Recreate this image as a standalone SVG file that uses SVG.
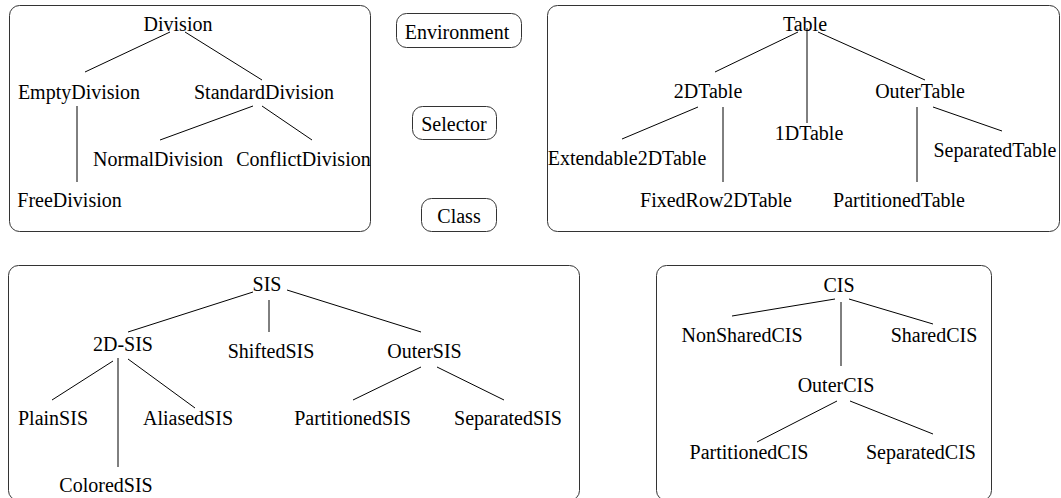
<svg xmlns="http://www.w3.org/2000/svg" width="1061" height="498" viewBox="0 0 1061 498">
<style>
text{font-family:"Liberation Serif","Times New Roman",serif;font-size:20px;fill:#000;text-anchor:middle}
.box{fill:none;stroke:#333;stroke-width:1}
.lbl{fill:#fff;stroke:#333;stroke-width:1}
#connectors line{stroke:#000;stroke-width:1}
</style>
<rect fill="#fff" width="1061" height="498"/>
<g id="frames">
<rect class="box" x="9.5" y="5.5" width="361" height="226" rx="10"/>
<rect class="box" x="547.5" y="5.5" width="512" height="226" rx="10"/>
<rect class="box" x="8.5" y="265.5" width="571" height="235" rx="10"/>
<rect class="box" x="656.5" y="265.5" width="335" height="235" rx="10"/>
</g>
<g id="connectors">
<line x1="170" y1="32" x2="85" y2="72"/>
<line x1="185" y1="32" x2="262" y2="80"/>
<line x1="253" y1="106" x2="160" y2="140"/>
<line x1="262" y1="106" x2="312" y2="140"/>
<line x1="77" y1="106" x2="77" y2="182"/>
<line x1="798" y1="32" x2="715" y2="72"/>
<line x1="807" y1="28" x2="807" y2="123"/>
<line x1="818" y1="32" x2="925" y2="80"/>
<line x1="698" y1="107" x2="622" y2="139"/>
<line x1="723" y1="107" x2="723" y2="182"/>
<line x1="917" y1="107" x2="917" y2="182"/>
<line x1="933" y1="107" x2="1002" y2="131"/>
<line x1="253" y1="292" x2="128" y2="332"/>
<line x1="269" y1="300" x2="269" y2="332"/>
<line x1="287" y1="290" x2="421" y2="332"/>
<line x1="113" y1="361" x2="52" y2="400"/>
<line x1="118" y1="358" x2="118" y2="467"/>
<line x1="128" y1="359" x2="195" y2="408"/>
<line x1="421" y1="367" x2="353" y2="400"/>
<line x1="437" y1="367" x2="504" y2="400"/>
<line x1="835" y1="299" x2="732" y2="316"/>
<line x1="841" y1="302" x2="841" y2="366"/>
<line x1="849" y1="299" x2="933" y2="324"/>
<line x1="837" y1="401" x2="757" y2="442"/>
<line x1="850" y1="401" x2="933" y2="434"/>
</g>
<g id="n-environment"><rect class="lbl" x="396.5" y="13.5" width="125" height="34" rx="10"/><text x="457" y="39">Environment</text></g>
<g id="n-selector"><rect class="lbl" x="412.5" y="106.5" width="84" height="33" rx="10"/><text x="454" y="131">Selector</text></g>
<g id="n-class"><rect class="lbl" x="421.5" y="198.5" width="75" height="33" rx="10"/><text x="459" y="223">Class</text></g>
<g id="n-division"><text x="178" y="31">Division</text></g>
<g id="n-emptydivision"><text x="79" y="99">EmptyDivision</text></g>
<g id="n-standarddivision"><text x="264" y="99">StandardDivision</text></g>
<g id="n-normaldivision"><text x="158" y="166">NormalDivision</text></g>
<g id="n-conflictdivision"><text x="303.5" y="166">ConflictDivision</text></g>
<g id="n-freedivision"><text x="69.5" y="207">FreeDivision</text></g>
<g id="n-table"><text x="805" y="31">Table</text></g>
<g id="n-2dtable"><text x="708" y="98">2DTable</text></g>
<g id="n-outertable"><text x="920" y="98">OuterTable</text></g>
<g id="n-1dtable"><text x="809" y="140">1DTable</text></g>
<g id="n-extendable2dtable"><text x="627" y="165">Extendable2DTable</text></g>
<g id="n-separatedtable"><text x="995" y="157">SeparatedTable</text></g>
<g id="n-fixedrow2dtable"><text x="716" y="207">FixedRow2DTable</text></g>
<g id="n-partitionedtable"><text x="899" y="207">PartitionedTable</text></g>
<g id="n-sis"><text x="267" y="291">SIS</text></g>
<g id="n-2dsis"><text x="123" y="351">2D-SIS</text></g>
<g id="n-shiftedsis"><text x="271" y="358">ShiftedSIS</text></g>
<g id="n-outersis"><text x="424.5" y="358">OuterSIS</text></g>
<g id="n-plainsis"><text x="53" y="425">PlainSIS</text></g>
<g id="n-aliasedsis"><text x="188" y="425">AliasedSIS</text></g>
<g id="n-partitionedsis"><text x="352.5" y="425">PartitionedSIS</text></g>
<g id="n-separatedsis"><text x="508" y="425">SeparatedSIS</text></g>
<g id="n-coloredsis"><text x="106" y="492">ColoredSIS</text></g>
<g id="n-cis"><text x="839" y="292">CIS</text></g>
<g id="n-nonsharedcis"><text x="742" y="342">NonSharedCIS</text></g>
<g id="n-sharedcis"><text x="934" y="342">SharedCIS</text></g>
<g id="n-outercis"><text x="836" y="392">OuterCIS</text></g>
<g id="n-partitionedcis"><text x="749" y="459">PartitionedCIS</text></g>
<g id="n-separatedcis"><text x="921" y="459">SeparatedCIS</text></g>
</svg>
